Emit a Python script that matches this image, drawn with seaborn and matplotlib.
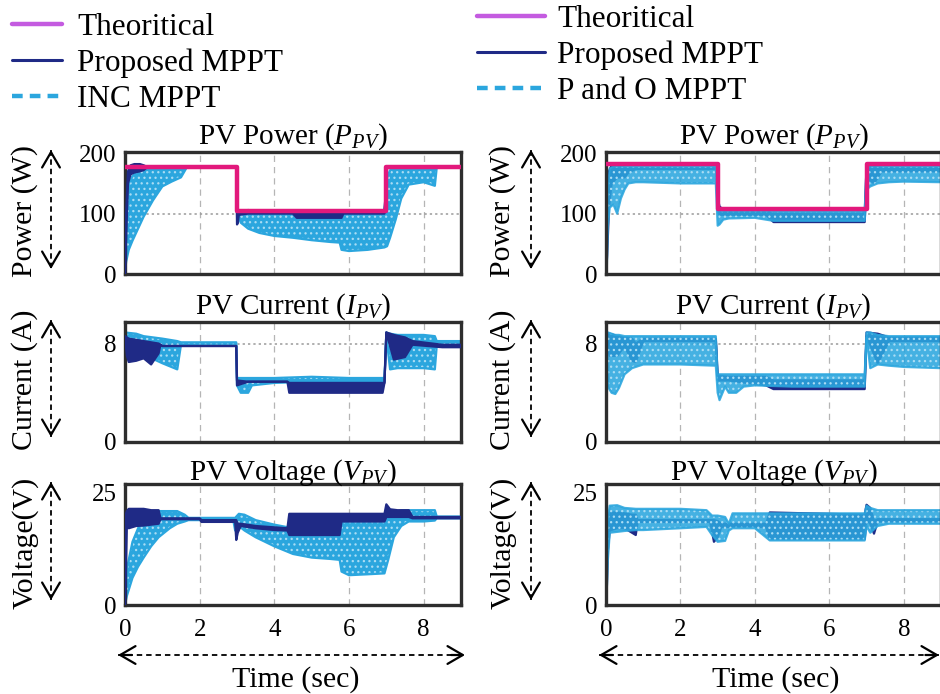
import matplotlib
matplotlib.use("Agg")
import matplotlib.pyplot as plt
import seaborn as sns
from matplotlib.lines import Line2D
from matplotlib.patches import FancyArrowPatch

sns.set_theme(style="white")
plt.rcParams['font.family'] = ['Liberation Serif', 'DejaVu Serif']
plt.rcParams['mathtext.fontset'] = 'custom'
plt.rcParams['mathtext.rm'] = 'Liberation Serif'
plt.rcParams['mathtext.it'] = 'Liberation Serif:italic'
plt.rcParams['hatch.linewidth'] = 0.9
for key in ('text.color', 'axes.labelcolor', 'xtick.color', 'ytick.color'):
    plt.rcParams[key] = 'black'

# ---------------- data ----------------
X_TICKS = [0, 2, 4, 6, 8]
P_TICKS = [0, 100, 200]
I_TICKS = [0, 8]
V_TICKS = [0, 25]

# theoretical maximum power (step profile)
T_STEP = [0, 3, 7, 9]
P_THEORY_L = [177, 104, 177, 177]
P_THEORY_R = [182, 107, 182, 182]

# ---- left column: proposed vs INC ----
# INC power envelope
T_INC_P = [0, 0.03, 0.1, 0.2, 0.35, 0.5, 0.75, 1.0, 1.25, 1.5, 1.65, 2.9, 2.98, 3.02, 3.1, 3.3, 3.6, 4.0, 4.5,
           5.0, 5.5, 5.75, 5.8, 6.0, 6.5, 6.95, 7.02, 7.1, 7.25, 7.4, 7.6, 8.0, 8.3, 8.35, 9.0]
INC_P_HI = [0, 90, 150, 162, 172, 175, 176, 176, 176, 176, 176, 176, 176, 100, 100, 100, 100, 100, 99,
            99, 99, 99, 99, 99, 99, 99, 160, 172, 175, 176, 176, 176, 176, 176, 176]
INC_P_LO = [0, 20, 40, 55, 75, 95, 122, 145, 153, 160, 176, 176, 176, 98, 85, 75, 68, 63, 60,
            56, 53, 52, 40, 38, 40, 44, 46, 60, 90, 125, 148, 152, 146, 176, 176]
# proposed power envelope (left)
T_PRO_PL = [0, 0.03, 0.08, 0.15, 0.25, 0.4, 0.5, 0.6, 2.98, 3.0, 3.02, 3.05, 3.3, 3.5, 4.5, 4.6, 5.8,
            5.85, 6.95, 7.02, 9]
PRO_PL_HI = [0, 100, 170, 180, 182, 182, 180, 177, 177, 177, 100, 100, 106, 102, 102, 100, 100,
             102, 102, 177, 177]
PRO_PL_LO = [0, 60, 150, 165, 168, 170, 172, 177, 177, 82, 84, 98, 100, 100, 100, 93, 93,
             100, 100, 177, 177]

# INC current envelope
T_INC_I = [0, 0.3, 0.4, 0.5, 1.0, 1.4, 1.5, 1.6, 2.0, 2.9, 2.98, 3.0, 3.1, 3.3, 3.4, 4.0, 5.0, 6.0,
           6.95, 7.0, 7.1, 7.3, 7.6, 8.0, 8.3, 8.35, 9.0]
INC_I_HI = [8.9, 8.8, 8.7, 8.6, 8.4, 8.2, 8.1, 8.1, 8.1, 8.1, 8.1, 5.2, 5.2, 5.2, 5.2, 5.2, 5.3, 5.2,
            5.2, 8.9, 8.8, 8.7, 8.7, 8.7, 8.6, 8.2, 8.2]
INC_I_LO = [8.4, 8.2, 7.6, 7.1, 6.4, 5.9, 7.9, 7.9, 7.85, 7.85, 7.85, 4.6, 4.0, 4.0, 4.6, 4.8, 4.9, 4.9,
            4.9, 8.6, 5.9, 6.0, 6.0, 6.0, 5.9, 7.8, 7.8]
# proposed current envelope (left)
T_PRO_IL = [0, 0.05, 0.1, 0.3, 0.5, 0.7, 0.9, 0.95, 1.0, 2.9, 2.98, 3.0, 3.3, 4.35, 4.4, 6.9, 6.95,
            7.0, 7.2, 7.5, 7.7, 8.5, 9.0]
PRO_IL_HI = [8.6, 8.5, 8.4, 8.3, 8.2, 8.1, 8.0, 7.9, 7.8, 7.8, 7.8, 5.0, 4.9, 4.9, 4.8, 4.8, 4.8,
             8.9, 8.7, 8.5, 8.2, 7.9, 7.9]
PRO_IL_LO = [8.6, 7.0, 6.5, 6.6, 6.8, 6.3, 7.2, 7.9, 7.8, 7.8, 7.8, 4.6, 4.9, 4.9, 4.0, 4.0, 4.8,
             8.9, 6.7, 6.9, 7.9, 7.7, 7.7]

# INC voltage envelope
T_INC_V = [0, 0.05, 0.2, 0.35, 0.5, 0.7, 0.9, 1.2, 1.4, 1.6, 1.7, 2.9, 2.95, 3.05, 3.2, 3.5, 4.0, 4.5,
           5.0, 5.5, 5.75, 5.8, 6.0, 6.5, 6.95, 7.05, 7.2, 7.4, 7.6, 8.0, 8.3, 8.35, 9.0]
INC_V_HI = [0, 8, 14, 17, 19, 20.5, 20.8, 20.8, 20.8, 20, 19.3, 19.3, 19.3, 20.2, 20.0, 18.8, 17.8, 17.0,
            16.5, 16.0, 15.8, 18.4, 18.5, 18.5, 18.5, 19.5, 20.5, 21.0, 21.0, 21.0, 21.0, 19.6, 19.6]
INC_V_LO = [0, 2, 6, 8.5, 10.5, 13, 15, 17, 18, 18.5, 18.8, 18.8, 16.5, 17.5, 16.5, 15.0, 13.0, 11.3,
            10.5, 10.2, 10.0, 7.4, 6.6, 6.8, 7.0, 10.0, 15.0, 17.5, 18.5, 18.5, 18.7, 19.2, 19.2]
# proposed voltage envelope (left)
T_PRO_VL = [0, 0.02, 0.05, 0.1, 0.3, 0.5, 0.7, 0.9, 0.95, 1.0, 2.0, 2.05, 2.95, 2.98, 3.02, 3.1, 3.5,
            4.0, 4.35, 4.4, 5.75, 5.8, 6.95, 7.0, 7.1, 7.3, 7.6, 7.7, 9.0]
PRO_VL_HI = [0, 20, 20.8, 21.3, 21.3, 21.3, 21.0, 21.0, 19.2, 19.2, 19.2, 18.8, 18.8, 18.8, 18.0, 18.0,
             17.5, 17.2, 17.0, 20.2, 20.2, 20.2, 20.2, 22.3, 21.2, 21.0, 21.0, 19.5, 19.5]
PRO_VL_LO = [0, 6, 17.5, 17.0, 17.5, 17.6, 17.8, 18.0, 19.0, 19.0, 19.0, 18.4, 18.4, 14.4, 16.0, 17.5,
             17.0, 16.6, 16.5, 15.5, 15.5, 18.5, 18.5, 19.5, 19.5, 19.5, 19.5, 19.2, 19.2]

# ---- right column: proposed vs P and O ----
T_PO_P = [0, 0.02, 0.05, 0.1, 0.2, 0.3, 0.4, 0.5, 0.6, 0.8, 1.0, 2.0, 2.95, 3.0, 3.05, 3.15, 3.3, 4.0,
          4.5, 6.95, 7.0, 7.1, 7.3, 7.6, 8.0, 9.0]
PO_P_HI = [0, 60, 140, 175, 178, 178, 178, 178, 178, 178, 178, 178, 178, 104, 104, 104, 104, 104,
           104, 104, 178, 178, 178, 178, 178, 178]
PO_P_LO = [0, 5, 80, 110, 115, 100, 125, 140, 150, 152, 152, 150, 150, 80, 82, 90, 92, 93,
           88, 88, 140, 145, 150, 152, 153, 152]
T_PRO_PR = [0, 0.03, 0.08, 0.15, 0.3, 0.5, 0.6, 0.8, 2.98, 3.02, 3.05, 3.15, 4.3, 4.5, 6.95, 7.0, 7.2,
            7.4, 9]
PRO_PR_HI = [0, 90, 170, 180, 180, 176, 176, 176, 176, 120, 112, 106, 104, 100, 100, 178, 178,
             176, 176]
PRO_PR_LO = [0, 30, 110, 150, 160, 160, 168, 174, 174, 100, 98, 98, 98, 86, 86, 160, 150,
             170, 170]

T_PO_I = [0, 0.05, 0.15, 0.25, 0.35, 0.5, 0.7, 1.0, 2.0, 2.95, 3.0, 3.05, 3.2, 3.3, 3.5, 3.7, 4.0, 5.0,
          6.95, 7.0, 7.1, 7.3, 7.6, 8.0, 9.0]
PO_I_HI = [8.9, 8.9, 8.8, 8.7, 8.7, 8.6, 8.6, 8.6, 8.6, 8.6, 5.5, 5.5, 5.5, 5.5, 5.5, 5.5, 5.5, 5.5,
           5.5, 8.9, 8.9, 8.7, 8.6, 8.6, 8.6]
PO_I_LO = [8.3, 4.5, 4.0, 3.9, 4.4, 5.5, 6.0, 6.3, 6.3, 6.2, 4.0, 3.4, 4.5, 4.0, 4.0, 4.5, 4.6, 4.5,
           4.5, 8.5, 6.0, 6.3, 6.2, 6.1, 6.0]
T_PRO_IR = [0, 0.1, 0.3, 0.5, 0.7, 0.8, 1.0, 2.95, 3.0, 3.3, 4.3, 4.5, 6.95, 7.0, 7.3, 7.6, 9.0]
PRO_IR_HI = [8.8, 8.8, 8.6, 8.5, 8.4, 8.0, 8.4, 8.4, 5.4, 5.3, 5.3, 5.0, 5.0, 8.9, 8.8, 8.5, 8.5]
PRO_IR_LO = [8.3, 7.0, 7.0, 7.8, 6.6, 6.5, 8.2, 8.2, 5.0, 5.0, 4.6, 4.3, 4.3, 8.6, 6.4, 8.2, 8.2]

T_PO_V = [0, 0.02, 0.05, 0.1, 0.3, 0.5, 0.8, 1.0, 2.0, 2.7, 2.85, 3.0, 3.2, 3.3, 3.4, 4.0, 4.4, 5.0,
          6.0, 6.95, 7.0, 7.1, 7.3, 7.6, 8.0, 9.0]
PO_V_HI = [0, 12, 19, 22.0, 22.1, 21.5, 21.3, 21.3, 21.3, 21.0, 19.8, 19.8, 19.5, 18.0, 20.3, 20.3,
           20.3, 20.3, 20.3, 20.3, 22.0, 21.5, 21.0, 21.0, 21.0, 21.0]
PO_V_LO = [0, 3, 10, 16.0, 16.2, 16.4, 16.6, 16.6, 17.0, 17.3, 15.5, 14.0, 14.2, 16.5, 17.0, 17.0,
           14.3, 14.3, 14.3, 14.3, 17.5, 16.0, 17.5, 18.0, 18.0, 18.0]
T_PRO_VR = [0, 0.02, 0.05, 0.1, 0.3, 0.5, 0.7, 0.8, 0.85, 2.8, 2.9, 3.0, 3.1, 4.3, 4.4, 6.95, 7.0, 7.1,
            7.2, 7.3, 9.0]
PRO_VR_HI = [0, 10, 18, 20.5, 20.5, 20.3, 20.0, 20.0, 18.8, 18.8, 18.8, 18.6, 18.0, 18.0, 20.5, 20.0,
             22.2, 21.5, 18.6, 19.0, 19.0]
PRO_VR_LO = [0, 3, 12, 16.5, 17.0, 17.0, 16.0, 15.5, 18.4, 18.4, 14.0, 15.0, 17.3, 17.3, 14.6, 14.6,
             19.0, 18.0, 15.8, 18.5, 18.5]

# ---------------- styling ----------------
C_THEORY = '#e2197c'
C_THEORY_LEG = '#c45be0'
C_PRO = '#1f2a86'
C_ALT = '#2ba6de'
C_SPECKLE = '#a9dcf4'
FS_TICK = 18
FS_LABEL = 21.5
FS_TITLE = 21
FS_LEGEND = 22.5

W, H = 940, 694
fig = plt.figure(figsize=(W / 100, H / 100), dpi=100)


def rect(x0, y0, x1, y1):
    return [x0 / W, 1 - y1 / H, (x1 - x0) / W, (y1 - y0) / H]


def band(ax, t, lo, hi, color, lw, alpha=1.0, speckle=False, z=2):
    ax.fill_between(t, lo, hi, facecolor=color, edgecolor='none', alpha=alpha, zorder=z)
    if speckle:
        ax.fill_between(t, lo, hi, facecolor='none', edgecolor=C_SPECKLE, hatch='...',
                        linewidth=0, zorder=z)
    for edge in (hi, lo):
        sns.lineplot(x=t, y=edge, ax=ax, color=color, lw=lw, alpha=alpha,
                     sort=False, estimator=None, zorder=z + 0.1)


def style_axes(ax, yticks, ylim, hgrid, bottom):
    ax.set_xlim(0, 9)
    ax.set_ylim(*ylim)
    ax.set_xticks(X_TICKS)
    ax.set_yticks(yticks)
    ax.set_xlabel('')
    ax.set_ylabel('')
    ax.grid(axis='x', color='#b5b5b5', ls=(0, (5, 4)), lw=0.9)
    ax.grid(axis='y', visible=False)
    if hgrid is not None:
        ax.axhline(hgrid, color='#9a9a9a', ls=(0, (1.5, 2)), lw=1.1, zorder=1)
    ax.tick_params(axis='both', length=0, labelsize=FS_TICK)
    ax.tick_params(axis='y', pad=6)
    ax.tick_params(axis='x', pad=10, labelbottom=bottom)
    for s in ax.spines.values():
        s.set_visible(True)
        s.set_color('#2e2e2e')
        s.set_linewidth(2.4)
    ax.set_facecolor('white')


# left: proposed drawn over INC; right: proposed mostly hidden beneath P and O
cols = [
    dict(x0=125, x1=461, theory=P_THEORY_L, pro_z=3, alt_alpha=1.0,
         P=(T_INC_P, INC_P_LO, INC_P_HI, T_PRO_PL, PRO_PL_LO, PRO_PL_HI),
         I=(T_INC_I, INC_I_LO, INC_I_HI, T_PRO_IL, PRO_IL_LO, PRO_IL_HI),
         V=(T_INC_V, INC_V_LO, INC_V_HI, T_PRO_VL, PRO_VL_LO, PRO_VL_HI)),
    dict(x0=606, x1=941, theory=P_THEORY_R, pro_z=1.5, alt_alpha=0.88,
         P=(T_PO_P, PO_P_LO, PO_P_HI, T_PRO_PR, PRO_PR_LO, PRO_PR_HI),
         I=(T_PO_I, PO_I_LO, PO_I_HI, T_PRO_IR, PRO_IR_LO, PRO_IR_HI),
         V=(T_PO_V, PO_V_LO, PO_V_HI, T_PRO_VR, PRO_VR_LO, PRO_VR_HI)),
]

rows = [
    dict(key='P', y0=152, y1=274, ticks=P_TICKS, ylim=(0, 202), hgrid=P_TICKS[1],
         title=r'PV Power ($P_{PV}$)', ylabel='Power (W)', bottom=False),
    dict(key='I', y0=322, y1=442, ticks=I_TICKS, ylim=(0, 9.75), hgrid=I_TICKS[1],
         title=r'PV Current ($I_{PV}$)', ylabel='Current (A)', bottom=False),
    dict(key='V', y0=484, y1=605, ticks=V_TICKS, ylim=(0, 26.8), hgrid=None,
         title=r'PV Voltage ($V_{PV}$)', ylabel='Voltage(V)', bottom=True),
]


def px(x, y):
    return (x / W, 1 - y / H)


def dashed_arrow(x0, y0, x1, y1):
    a, b = px(x0, y0), px(x1, y1)
    fig.add_artist(Line2D([a[0], b[0]], [a[1], b[1]], transform=fig.transFigure,
                          color='black', lw=1.3, ls=(0, (3, 2.2))))
    for end, other in ((a, b), (b, a)):
        inner = (end[0] + (other[0] - end[0]) * 0.04, end[1] + (other[1] - end[1]) * 0.04)
        fig.add_artist(FancyArrowPatch(posA=inner, posB=end, transform=fig.transFigure,
                                       arrowstyle='->,head_length=0.55,head_width=0.32',
                                       mutation_scale=20, color='black', lw=1.6,
                                       shrinkA=0, shrinkB=0))


for col in cols:
    for row in rows:
        ax = fig.add_axes(rect(col['x0'], row['y0'], col['x1'], row['y1']))
        t_alt, lo_alt, hi_alt, t_pro, lo_pro, hi_pro = col[row['key']]
        band(ax, t_alt, lo_alt, hi_alt, C_ALT, 1.6, alpha=col['alt_alpha'], speckle=True, z=2)
        band(ax, t_pro, lo_pro, hi_pro, C_PRO, 1.6, z=col['pro_z'])
        if row['key'] == 'P':
            sns.lineplot(x=T_STEP, y=col['theory'], ax=ax, color=C_THEORY, lw=3.2,
                         drawstyle='steps-post', estimator=None, sort=False, zorder=5)
        style_axes(ax, row['ticks'], row['ylim'], row['hgrid'], row['bottom'])
        ax.set_title(row['title'], fontsize=FS_TITLE, pad=3)
        # rotated axis label with dashed double arrow beside it
        lab_x = 25 if col['x0'] < 300 else 503
        arr_x = 51 if col['x0'] < 300 else 531
        yc = (row['y0'] + row['y1']) / 2
        fig.text(*px(lab_x, yc - 2), row['ylabel'], rotation=90, ha='center', va='center',
                 fontsize=FS_LABEL)
        dashed_arrow(arr_x, row['y0'] - 2, arr_x, row['y1'] - 5)
    # time axis arrow and label
    dashed_arrow(col['x0'] - 7, 655, min(col['x0'] + 340, 939), 655)
    fig.text(*px((col['x0'] + min(col['x1'], 940)) / 2 + 3, 680), 'Time (sec)',
             ha='center', va='center', fontsize=FS_LABEL)

# legends
h_theory = Line2D([], [], color=C_THEORY_LEG, lw=3.2)
h_pro = Line2D([], [], color=C_PRO, lw=2.2)
h_alt = Line2D([], [], color=C_ALT, lw=3.2, ls=(0, (2.4, 1.6)))
fig.legend([h_theory, h_pro, h_alt], ['Theoritical', 'Proposed MPPT', 'INC MPPT'],
           loc='upper left', bbox_to_anchor=px(12, 13), frameon=False, fontsize=FS_LEGEND,
           handlelength=1.6, handletextpad=0.48, labelspacing=0.21, borderpad=0,
           borderaxespad=0)
fig.legend([h_theory, h_pro, h_alt], ['Theoritical', 'Proposed MPPT', 'P and O MPPT'],
           loc='upper left', bbox_to_anchor=px(477, 5), frameon=False, fontsize=FS_LEGEND,
           handlelength=2.18, handletextpad=0.38, labelspacing=0.21, borderpad=0,
           borderaxespad=0)

fig.savefig('out.png', dpi=100, facecolor='white')
